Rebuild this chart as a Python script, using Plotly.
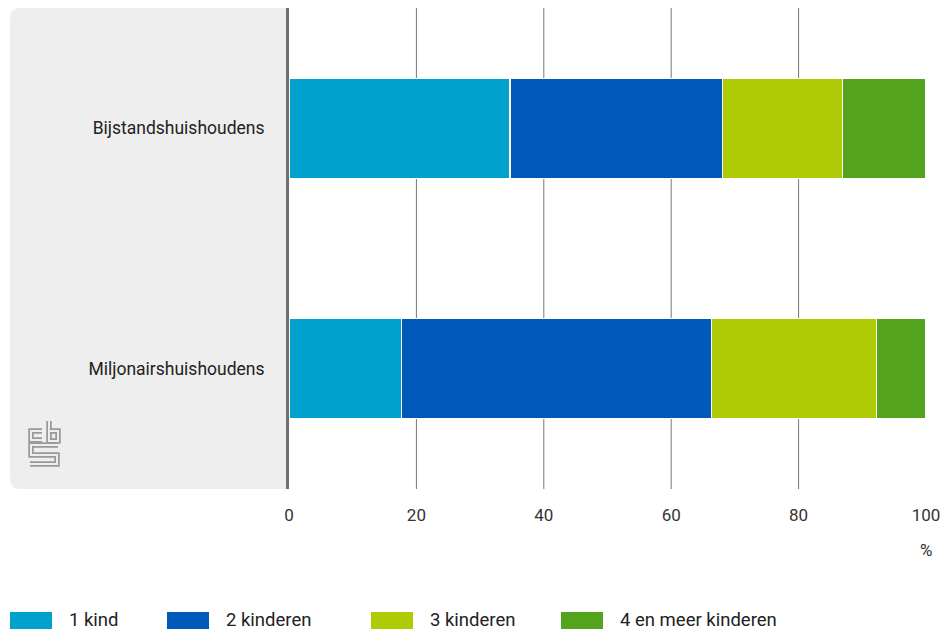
import plotly.graph_objects as go

categories = ["Bijstandshuishoudens", "Miljonairshuishoudens"]
series_names = ["1 kind", "2 kinderen", "3 kinderen", "4 en meer kinderen"]
kind1 = [34.7, 17.6]
kind2 = [33.4, 48.7]
kind3 = [18.8, 25.9]
kind4 = [13.1, 7.8]
colors = ["#00a1cd", "#0058b8", "#afcb05", "#53a31d"]
x_ticks = [0, 20, 40, 60, 80, 100]
grid_vals = [20, 40, 60, 80]

W, H = 950, 634
L, R, T, B = 289, 24, 8, 145
PW, PH = W - L - R, H - T - B


def px(x):
    return (x - L) / PW


def py(y):
    return 1 - (y - T) / PH


FONT = "Roboto, sans-serif"

fig = go.Figure()
for name, vals, col in zip(series_names, [kind1, kind2, kind3, kind4], colors):
    fig.add_trace(go.Bar(
        y=categories, x=vals, name=name, orientation="h",
        marker=dict(color=col, line=dict(color="white", width=1.2)),
        width=0.415, showlegend=False,
        hovertemplate="%{y}: %{x}%<extra>" + name + "</extra>",
    ))

shapes = []
# grey panel with rounded left corners
x0, x1, y0, y1, r = px(10), px(289), py(8), py(489), 10
rx, ry = r / PW, r / PH
path = (f"M {x1},{y0} L {x0+rx},{y0} Q {x0},{y0} {x0},{y0-ry} "
        f"L {x0},{y1+ry} Q {x0},{y1} {x0+rx},{y1} L {x1},{y1} Z")
shapes.append(dict(type="path", path=path, xref="paper", yref="paper",
                   fillcolor="#eeeeee", line=dict(width=0), layer="below"))
# gridlines
for g in grid_vals:
    shapes.append(dict(type="line", xref="x", yref="paper", x0=g, x1=g, y0=0, y1=1,
                       line=dict(color="#777777", width=1), layer="below"))

# CBS logo (approximate)
logo_paths = [
    [(42, 431), (31, 431), (31, 440), (42, 440)],
    [(49, 421), (49, 441), (58, 441), (58, 431), (49, 431)],
    [(58, 445), (31, 445), (31, 455), (57, 455), (57, 464), (30, 464)],
]
for pts in logo_paths:
    d = "M " + " L ".join(f"{px(a)},{py(b)}" for a, b in pts)
    shapes.append(dict(type="path", path=d, xref="paper", yref="paper",
                       line=dict(color="#999999", width=5.5), layer="above"))
    shapes.append(dict(type="path", path=d, xref="paper", yref="paper",
                       line=dict(color="#eeeeee", width=2), layer="above"))

annotations = [dict(text="%", x=100, xref="x", y=py(550), yref="paper",
                    showarrow=False, font=dict(family=FONT, size=17, color="#333333"),
                    xanchor="center", yanchor="middle")]

# legend drawn manually
leg_x = [10, 167, 371, 561]
for name, col, lx in zip(series_names, colors, leg_x):
    shapes.append(dict(type="rect", xref="paper", yref="paper",
                       x0=px(lx), x1=px(lx + 42), y0=py(612), y1=py(629),
                       fillcolor=col, line=dict(width=0)))
    annotations.append(dict(text=name, x=px(lx + 57), y=py(620), xref="paper", yref="paper",
                            showarrow=False, xanchor="left", yanchor="middle",
                            font=dict(family=FONT, size=18.5, color="#222222")))

fig.update_layout(
    width=W, height=H,
    margin=dict(l=L, r=R, t=T, b=B),
    barmode="stack",
    plot_bgcolor="white", paper_bgcolor="white",
    shapes=shapes, annotations=annotations,
    font=dict(family=FONT, size=17, color="#333333"),
    xaxis=dict(range=[0, 100], tickvals=x_ticks, showgrid=False, zeroline=False,
               showline=False, ticks="", tickfont=dict(size=17, color="#333333"),
               ticklabelstandoff=14, fixedrange=True),
    yaxis=dict(autorange="reversed", showgrid=False, zeroline=False,
               showline=True, linecolor="#6e6e6e", linewidth=3, layer="above traces",
               ticks="", ticklabelstandoff=18,
               tickfont=dict(size=17.5, color="#222222"), fixedrange=True),
)

fig.write_html("out.html", config={"displayModeBar": False},
               post_script="document.body.style.margin='0px';document.body.style.padding='0px';")
